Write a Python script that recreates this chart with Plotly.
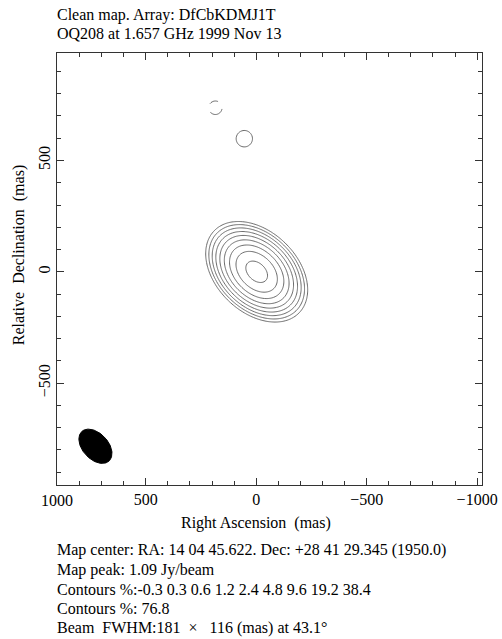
import numpy as np
import plotly.graph_objects as go

# ---- values ----
peak_jy = 1.09
levels_pct = [-0.3, 0.3, 0.6, 1.2, 2.4, 4.8, 9.6, 19.2, 38.4, 76.8]

# Gaussian components of the map (mas, Jy/beam, FWHM mas, PA deg)
comp_x = [-2, 54, 185]
comp_y = [0, 598, 737]
comp_amp = [1.09, 0.0059, -0.0055]
comp_maj = [184, 80, 70]
comp_min = [126, 80, 70]
comp_pa = [46.7, 0, 0]

# restoring beam
beam_maj = 181
beam_min = 116
beam_pa = 43.1
beam_x = 728
beam_y = -784

x_range = [902, -1022]
y_range = [-958, 983]

title_lines = ["Clean map. Array: DfCbKDMJ1T", "OQ208 at 1.657 GHz 1999 Nov 13"]
info_lines = [
    "Map center: RA: 14 04 45.622. Dec: +28 41 29.345 (1950.0)",
    "Map peak: 1.09 Jy/beam",
    "Contours %:-0.3 0.3 0.6 1.2 2.4 4.8 9.6 19.2 38.4",
    "Contours %: 76.8",
    "Beam  FWHM:181  \u00d7   116 (mas) at 43.1\u00b0",
]

# ---- build map grid ----
gx = np.arange(-600, 601, 5.0)
gy = np.arange(-600, 901, 5.0)
X, Y = np.meshgrid(gx, gy)
Z = np.zeros_like(X)
k = 2 * np.sqrt(2 * np.log(2))
for cx, cy, A, mj, mn, pa in zip(comp_x, comp_y, comp_amp, comp_maj, comp_min, comp_pa):
    th = np.radians(pa)
    dx, dy = X - cx, Y - cy
    a = dx * np.sin(th) + dy * np.cos(th)
    b = dx * np.cos(th) - dy * np.sin(th)
    Z += A * np.exp(-0.5 * ((a / (mj / k)) ** 2 + (b / (mn / k)) ** 2))

fig = go.Figure()
line_col = "#5a5a5a"
for p in levels_pct:
    lev = p / 100.0 * peak_jy
    fig.add_trace(go.Contour(
        x=gx, y=gy, z=Z,
        autocontour=False,
        contours=dict(start=lev, end=lev, size=1, coloring="none"),
        line=dict(color=line_col, width=0.9, dash="dash" if p < 0 else "solid", smoothing=1),
        showscale=False, hoverinfo="skip",
    ))

# beam ellipse
t = np.linspace(0, 2 * np.pi, 121)
th = np.radians(beam_pa)
ua = (np.sin(th), np.cos(th))
vb = (np.cos(th), -np.sin(th))
bx = beam_x + beam_maj / 2 * np.cos(t) * ua[0] + beam_min / 2 * np.sin(t) * vb[0]
by = beam_y + beam_maj / 2 * np.cos(t) * ua[1] + beam_min / 2 * np.sin(t) * vb[1]
fig.add_trace(go.Scatter(x=bx, y=by, mode="lines", fill="toself",
                         fillcolor="black", line=dict(color="black", width=1),
                         hoverinfo="skip", showlegend=False))

font = dict(family="Liberation Serif, Times New Roman, serif", size=16, color="black")
axcol = "#333333"
common = dict(showline=True, linecolor=axcol, linewidth=1, mirror="ticks",
              ticks="inside", ticklen=7, tickcolor=axcol, tickwidth=1,
              showgrid=False, zeroline=False, tickfont=font, automargin=False,
              minor=dict(ticks="inside", ticklen=4, dtick=100, tickcolor=axcol, tickwidth=1, showgrid=False))

fig.update_xaxes(range=x_range, tickmode="linear", tick0=0, dtick=500, **common)
fig.update_yaxes(range=y_range, tickmode="linear", tick0=0, dtick=500, tickangle=-90, **common)

ann = []
for i, s in enumerate(title_lines):
    ann.append(dict(text=s, xref="paper", yref="paper", x=0, y=1, xanchor="left", yanchor="middle",
                    xshift=-2, yshift=37.7 - 18 * i, showarrow=False, font=font))
for i, s in enumerate(info_lines):
    ann.append(dict(text=s, xref="paper", yref="paper", x=0, y=0, xanchor="left", yanchor="middle",
                    xshift=-2, yshift=-65 - 19.5 * i, showarrow=False, font=font))
ann.append(dict(text="Right Ascension\u00a0 (mas)", xref="paper", yref="paper", x=0.469, y=0,
                xanchor="center", yanchor="middle", yshift=-38, showarrow=False, font=font))
ann.append(dict(text="Relative\u00a0 Declination\u00a0 (mas)", xref="paper", yref="paper", x=0, y=0.532,
                xanchor="center", yanchor="middle", xshift=-38, textangle=-90, showarrow=False, font=font))
ann.append(dict(text="1000", xref="paper", yref="paper", x=0, y=0, xanchor="center", yanchor="middle",
                yshift=-15, showarrow=False, font=font))

fig.update_layout(
    width=502, height=639,
    margin=dict(l=57, r=20, t=53, b=154, autoexpand=False),
    paper_bgcolor="white", plot_bgcolor="white",
    showlegend=False, annotations=ann, font=font,
)
fig.write_html("out.html")
